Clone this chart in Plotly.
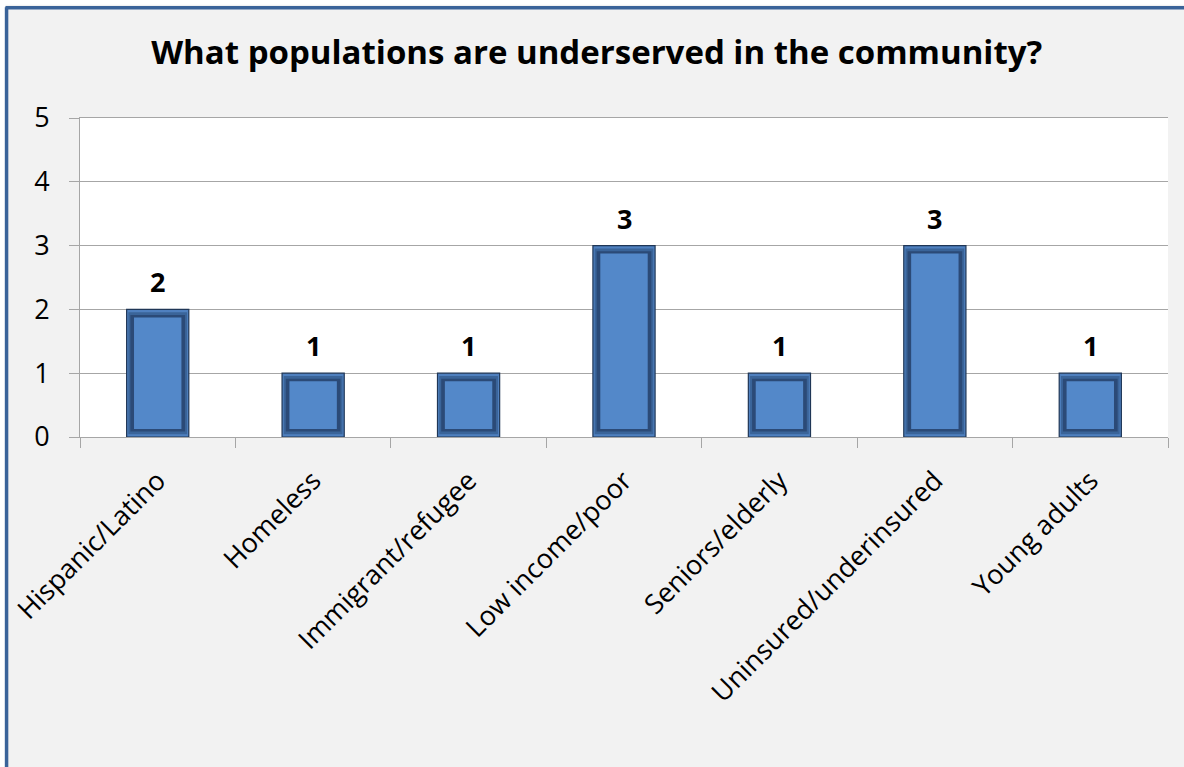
import plotly.graph_objects as go

categories = ["Hispanic/Latino", "Homeless", "Immigrant/refugee", "Low income/poor",
              "Seniors/elderly", "Uninsured/underinsured", "Young adults"]
values = [2, 1, 1, 3, 1, 3, 1]
y_ticks = [0, 1, 2, 3, 4, 5]
title_text = "What populations are underserved in the community?"

FONT = "Open Sans"
bev = 0.125  # bevel depth in value units (styling only)

fig = go.Figure()
# bevel layers: (width, inset fraction, colour)
layers = [
    (0.40, 0.0, "#4f80bf"),
    (0.378, 0.35, "#3a6499"),
    (0.352, 0.7, "#2b4a77"),
    (0.305, 1.0, "#5388c9"),
]
for i, (w, f, col) in enumerate(layers):
    fig.add_trace(go.Bar(
        x=categories,
        y=[v - 2 * bev * f for v in values] if f else values,
        base=bev * f if f else None,
        width=w,
        marker=dict(color=col,
                    line=dict(color="#1f3656", width=1.2) if i == 0 else dict(width=0)),
        hoverinfo="skip"))

for c, v in zip(categories, values):
    fig.add_annotation(x=c, y=v, text=f"<b>{v}</b>", showarrow=False, yanchor="bottom",
                       yshift=7, font=dict(family=FONT, size=27, color="black"))

# blue frame border and white outside strip
fig.add_shape(type="rect", xref="paper", yref="paper", x0=-0.2, x1=1.2, y0=1.355, y1=1.5,
              fillcolor="white", line=dict(width=0), layer="below")
fig.add_shape(type="rect", xref="paper", yref="paper", x0=-0.2, x1=-0.0685, y0=-1.2, y1=1.5,
              fillcolor="white", line=dict(width=0), layer="below")
fig.add_shape(type="line", xref="paper", yref="paper", x0=-0.0675, x1=-0.0675, y0=-1.2, y1=1.347,
              line=dict(color="#3a6399", width=3.5), layer="below")
fig.add_shape(type="line", xref="paper", yref="paper", x0=-0.0685, x1=1.2, y0=1.346, y1=1.346,
              line=dict(color="#3a6399", width=3.5), layer="below")

fig.update_layout(
    width=1184, height=767,
    barmode="overlay",
    showlegend=False,
    paper_bgcolor="#f2f2f2",
    plot_bgcolor="white",
    margin=dict(l=80, r=16, t=118, b=330),
    title=dict(text=f"<b>{title_text}</b>", x=0.504, xref="container", xanchor="center",
               y=0.932, yanchor="middle",
               font=dict(family=FONT, size=33, color="black")),
    font=dict(family=FONT, color="black"),
)
fig.update_xaxes(type="category", tickangle=-45, tickson="boundaries", ticks="outside",
                 ticklen=10, tickcolor="#a6a6a6", showline=True, linecolor="#a6a6a6",
                 linewidth=1, mirror=True, showgrid=False, ticklabelstandoff=16,
                 automargin=False,
                 tickfont=dict(family=FONT, size=27, color="black"))
fig.update_yaxes(range=[0, 5], tickvals=y_ticks, ticks="outside", ticklen=10,
                 tickcolor="#a6a6a6", showline=True, linecolor="#a6a6a6", linewidth=1,
                 showgrid=True, gridcolor="#a6a6a6", gridwidth=1, zeroline=False,
                 ticklabelstandoff=14, automargin=False,
                 tickfont=dict(family=FONT, size=27, color="black"))

fig.write_html("out.html", config={"displayModeBar": False},
               post_script="document.body.style.margin='0';")
